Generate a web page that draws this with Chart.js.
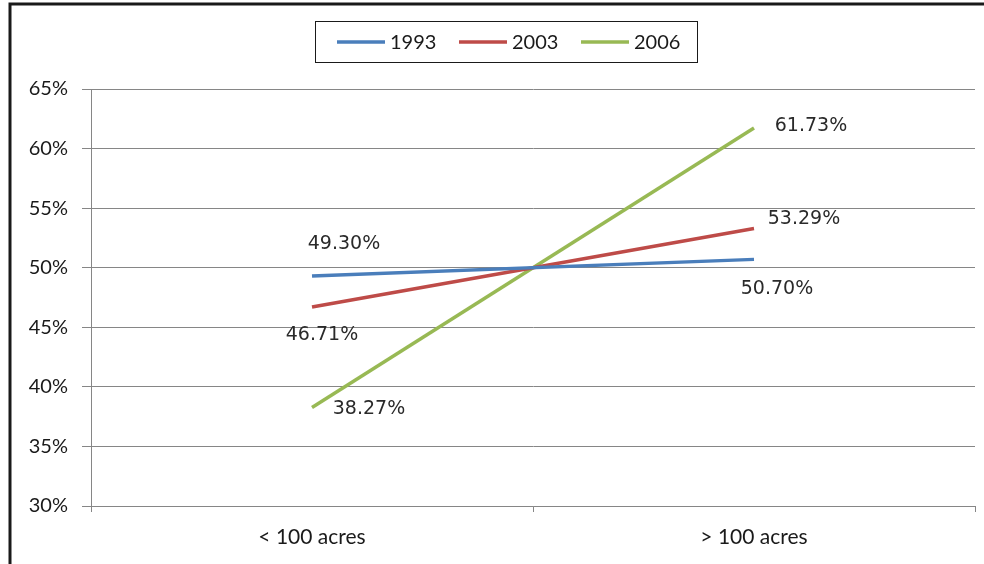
<!DOCTYPE html>
<html>
<head>
<meta charset="utf-8">
<style>
  html, body { margin: 0; padding: 0; background: #fff; }
  #wrap { width: 984px; height: 564px; position: relative; }
</style>
<script src="https://cdn.jsdelivr.net/npm/chart.js@4/dist/chart.umd.min.js"></script>
</head>
<body>
<div id="wrap"><canvas id="c" width="984" height="564"></canvas></div>
<script>
// Farm share by size class
const categories = ['< 100 acres', '> 100 acres'];
const years = ['1993', '2003', '2006'];
const share1993 = [49.30, 50.70];
const share2003 = [46.71, 53.29];
const share2006 = [38.27, 61.73];
const yTicks = [30, 35, 40, 45, 50, 55, 60, 65];

const colors = ['#4A7EBB', '#BE4B48', '#98B954'];

// where each value label sits relative to its point (px)
const labelOffsets = [
  [[32, -32], [23, 30]],
  [[10, 28], [50, -9]],
  [[57, 2], [57, -2]]
];

const AXIS_FONT = '20px Lato';
const LABEL_FONT = '19px "DejaVu Sans"';

const frame = {
  id: 'frame',
  afterDraw(chart) {
    const ctx = chart.ctx;
    ctx.save();
    ctx.strokeStyle = '#1a1a1a';
    ctx.lineWidth = 3;
    ctx.beginPath();
    ctx.moveTo(10, 564);
    ctx.lineTo(10, 4);
    ctx.lineTo(984, 4);
    ctx.stroke();
    ctx.restore();
  }
};

const valueLabels = {
  id: 'valueLabels',
  afterDatasetsDraw(chart) {
    const ctx = chart.ctx;
    ctx.save();
    ctx.font = LABEL_FONT;
    ctx.fillStyle = '#2a2a2a';
    ctx.textAlign = 'center';
    ctx.textBaseline = 'middle';
    chart.data.datasets.forEach((ds, di) => {
      const meta = chart.getDatasetMeta(di);
      meta.data.forEach((pt, i) => {
        const off = labelOffsets[di][i];
        ctx.fillText(ds.data[i].toFixed(2) + '%', pt.x + off[0], pt.y + off[1]);
      });
    });
    ctx.restore();
  }
};

const boxedLegend = {
  id: 'boxedLegend',
  afterDraw(chart) {
    const ctx = chart.ctx;
    const box = { x: 315.5, y: 21.5, w: 382, h: 41 };
    ctx.save();
    ctx.strokeStyle = '#1a1a1a';
    ctx.lineWidth = 1;
    ctx.strokeRect(box.x, box.y, box.w, box.h);
    ctx.font = AXIS_FONT;
    ctx.textBaseline = 'middle';
    ctx.textAlign = 'left';
    const cy = 42;
    let x = 337;
    chart.data.datasets.forEach((ds) => {
      ctx.strokeStyle = ds.borderColor;
      ctx.lineWidth = 3.5;
      ctx.beginPath();
      ctx.moveTo(x, cy);
      ctx.lineTo(x + 48, cy);
      ctx.stroke();
      ctx.fillStyle = '#1a1a1a';
      ctx.fillText(ds.label, x + 53, cy + 1);
      x += 122;
    });
    ctx.restore();
  }
};

const seriesValues = [share1993, share2003, share2006];

new Chart(document.getElementById('c'), {
  type: 'line',
  data: {
    labels: categories,
    datasets: years.map((y, i) => ({
      label: y,
      data: seriesValues[i],
      borderColor: colors[i],
      backgroundColor: colors[i],
      borderWidth: 3.5,
      pointRadius: 0,
      tension: 0
    }))
  },
  options: {
    responsive: false,
    animation: false,
    layout: { padding: { top: 89, right: 9, left: 0, bottom: 0 } },
    plugins: { legend: { display: false }, tooltip: { enabled: false } },
    scales: {
      x: {
        offset: true,
        grid: {
          offset: true,
          drawOnChartArea: false,
          color: '#868686',
          tickLength: 6
        },
        border: { color: '#868686' },
        ticks: { font: { family: 'Lato', size: 21 }, color: '#1a1a1a', padding: 13 },
        afterFit(s) { s.height = 58; }
      },
      y: {
        min: 30,
        max: 65,
        afterBuildTicks(s) { s.ticks = yTicks.map(v => ({ value: v })); },
        grid: { color: '#868686', tickLength: 9 },
        border: { color: '#868686' },
        ticks: {
          font: { family: 'Lato', size: 20 },
          color: '#1a1a1a',
          padding: 14,
          callback: v => v + '%'
        },
        afterFit(s) { s.width = 91; }
      }
    }
  },
  plugins: [frame, valueLabels, boxedLegend]
});
</script>
</body>
</html>
